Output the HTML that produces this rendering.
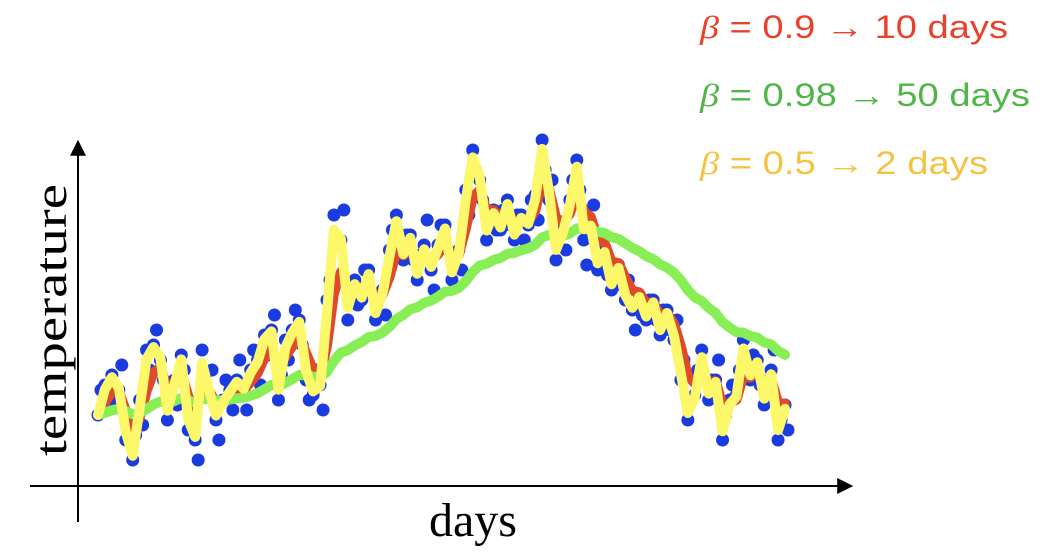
<!DOCTYPE html>
<html><head><meta charset="utf-8"><style>
body{margin:0;background:#fff;}
svg{display:block;}
</style></head><body>
<svg id="chart" width="1042" height="556" viewBox="0 0 1042 556">
<defs>
<marker id="arr" viewBox="0 0 10 10" refX="8" refY="5" markerWidth="8" markerHeight="8" orient="auto-start-reverse"><path d="M0,0 L10,5 L0,10 z" fill="#000"/></marker>
</defs>
<line x1="30" y1="486" x2="850" y2="486" stroke="#000" stroke-width="2" marker-end="url(#arr)"/>
<line x1="78" y1="522" x2="78" y2="143" stroke="#000" stroke-width="2" marker-end="url(#arr)"/>
<text x="473" y="536" font-family="'Liberation Serif',serif" font-size="48" text-anchor="middle">days</text>
<text transform="translate(66,320) rotate(-90)" font-family="'Liberation Serif',serif" font-size="46" text-anchor="middle" textLength="272" lengthAdjust="spacingAndGlyphs">temperature</text>
<g id="series"></g>
<g font-family="'Liberation Sans',sans-serif" font-size="32">
<text x="700" y="38" fill="#e8412c" textLength="308" lengthAdjust="spacingAndGlyphs"><tspan font-family="'Liberation Serif',serif" font-style="italic">β</tspan> = 0.9 → 10 days</text>
<text x="700" y="106" fill="#52b54a" textLength="330" lengthAdjust="spacingAndGlyphs"><tspan font-family="'Liberation Serif',serif" font-style="italic">β</tspan> = 0.98 → 50 days</text>
<text x="700" y="174" fill="#f5c342" textLength="288" lengthAdjust="spacingAndGlyphs"><tspan font-family="'Liberation Serif',serif" font-style="italic">β</tspan> = 0.5 → 2 days</text>
</g>
</svg>
<script>
const temps = [65,95,105,90,40,20,80,130,135,120,60,100,125,50,40,130,85,60,80,90,
100,90,110,120,145,150,80,140,150,160,100,85,95,180,265,240,160,200,180,210,
160,190,230,265,220,245,200,235,210,235,255,200,230,290,330,300,240,270,250,280,
240,265,255,285,340,280,220,250,280,320,240,255,210,230,190,215,180,170,185,160,
180,145,170,140,100,60,85,130,80,100,40,80,85,140,100,120,75,110,40,75];
const extraTemps = [90,70,80,115,60,45,55,110,150,100,85,75,110,70,20,105,110,40,100,70,
120,70,130,95,125,165,105,120,170,135,80,110,70,200,235,270,190,175,210,185,
185,165,250,240,245,220,225,260,190,255,230,225,210,265,310,280,265,250,270,255,
265,240,280,260,310,300,245,230,300,290,215,275,230,205,215,195,200,150,165,180,
160,170,150,160,120,80,110,100,100,120,65,95,110,115,125,95,90,130,60,50];
const betaGreen = 0.93;
const betaRed = 0.6;
const betaYellow = 0.15;
const svgns = "http://www.w3.org/2000/svg";
const g = document.getElementById('series');
const xScale = i => 98 + i * (687 / (temps.length - 1));
const yScale = t => 480 - t;
function ewma(b){ let v = temps[0]; return temps.map(t => (v = b * v + (1 - b) * t)); }
function dots(arr, off){
  arr.forEach((t, i) => {
    const c = document.createElementNS(svgns, 'circle');
    c.setAttribute('cx', xScale(i) + off); c.setAttribute('cy', yScale(t)); c.setAttribute('r', 6.5);
    c.setAttribute('fill', '#1a3be0');
    
    
    g.appendChild(c);
  });
}
dots(extraTemps, 3);
dots(temps, 0);
function line(vals, color, name){
  const p = document.createElementNS(svgns, 'path');
  p.setAttribute('d', vals.map((v, i) => (i ? 'L' : 'M') + xScale(i).toFixed(1) + ',' + yScale(v).toFixed(1)).join(''));
  p.setAttribute('fill', 'none'); p.setAttribute('stroke', color); p.setAttribute('stroke-width', 10);
  p.setAttribute('stroke-linejoin', 'round'); p.setAttribute('stroke-linecap', 'round');
  
  
  g.appendChild(p);
}
line(ewma(betaRed), '#e04a2a', 'red-ewma-line');
line(ewma(betaGreen), '#88ee55', 'green-ewma-line');
line(ewma(betaYellow), '#fdf76a', 'yellow-ewma-line');
</script>
</body></html>
